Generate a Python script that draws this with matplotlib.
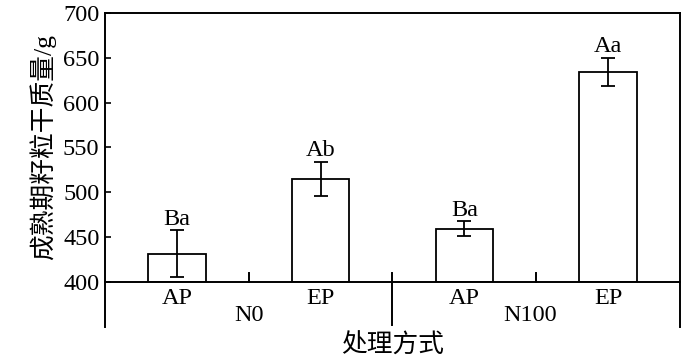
import matplotlib
matplotlib.use("Agg")
import matplotlib.pyplot as plt
import matplotlib.transforms as mtransforms

plt.rcParams['font.family'] = ['Liberation Serif', 'Noto Sans CJK SC']
plt.rcParams['axes.unicode_minus'] = False

categories = ["AP", "EP", "AP", "EP"]
groups = ["N0", "N100"]
values = [431.5, 515.0, 459.5, 634.5]
errors = [26.0, 19.0, 8.0, 15.5]
letters = ["Ba", "Ab", "Ba", "Aa"]
yticks = [400, 450, 500, 550, 600, 650, 700]

fig = plt.figure(figsize=(7.0, 3.59), dpi=100)
ax = fig.add_axes([0.15, 0.2145, 0.8214, 0.7493])

x = list(range(len(values)))
ax.bar(x, [v - 400 for v in values], bottom=400, width=0.4, facecolor='white',
       edgecolor='black', linewidth=1.3, zorder=2)
ax.errorbar(x, values, yerr=errors, fmt='none', ecolor='black', elinewidth=1.3,
            capsize=5, capthick=1.3, zorder=3)
for xi, v, e, t in zip(x, values, errors, letters):
    ax.text(xi, v + e + 0.5, t, ha='center', va='bottom', fontsize=17.5)

ax.set_xlim(-0.5, 3.5)
ax.set_ylim(400, 700)
ax.set_yticks(yticks)
ax.set_yticklabels([str(t) for t in yticks], fontsize=17.5)
ax.tick_params(axis='y', direction='in', length=4, width=1.2, pad=4)
ax.set_xticks([])
for s in ax.spines.values():
    s.set_linewidth(1.4)

trans = mtransforms.blended_transform_factory(ax.transData, ax.transAxes)
lw = 1.4
# extended frame below the axis
ax.plot([-0.5, -0.5], [0, -0.167], transform=trans, color='black', lw=lw, clip_on=False)
ax.plot([3.5, 3.5], [0, -0.167], transform=trans, color='black', lw=lw, clip_on=False)
ax.plot([1.5, 1.5], [0.035, -0.16], transform=trans, color='black', lw=lw, clip_on=False)
for gx in [0.5, 2.5]:
    ax.plot([gx, gx], [0, 0.034], transform=trans, color='black', lw=lw, clip_on=False)

for xi, c in zip(x, categories):
    ax.text(xi, -0.063, c, transform=trans, ha='center', va='center', fontsize=17.5)
for gx, g in zip([0.5, 2.46], groups):
    ax.text(gx, -0.123, g, transform=trans, ha='center', va='center', fontsize=17.5)

ax.text(1.5, -0.236, "处理方式", transform=trans, ha='center', va='center', fontsize=18.5)
ax.set_ylabel("成熟期籽粒干质量/g", fontsize=18.5, labelpad=5)

fig.savefig("out.png", dpi=100)
